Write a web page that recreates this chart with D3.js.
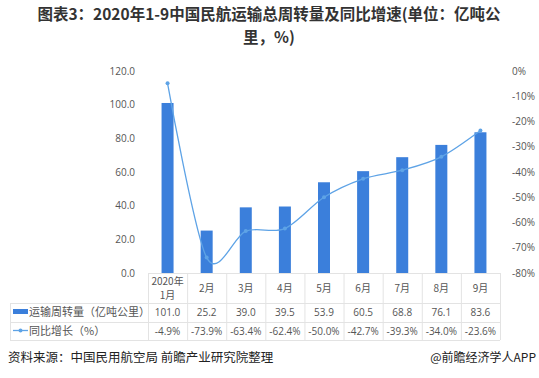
<!DOCTYPE html>
<html>
<head>
<meta charset="utf-8">
<script src="https://cdn.jsdelivr.net/npm/d3@7"></script>
<style>
  body { margin: 0; background: #fff; }
  svg { font-family: "Open Sans", "Noto Sans CJK SC", sans-serif; }
</style>
</head>
<body>
<svg id="chart" width="539" height="378"></svg>
<script>
// data
const months = ["2020年1月", "2月", "3月", "4月", "5月", "6月", "7月", "8月", "9月"];
const volume = [101.0, 25.2, 39.0, 39.5, 53.9, 60.5, 68.8, 76.1, 83.6];
const growth = [-4.9, -73.9, -63.4, -62.4, -50.0, -42.7, -39.3, -34.0, -23.6];
const leftTicks = [0, 20, 40, 60, 80, 100, 120];
const rightTicks = [0, -10, -20, -30, -40, -50, -60, -70, -80];

const svg = d3.select("#chart");
const barColor = "#3b7fdb";
const lineColor = "#5ea3e6";
const gridColor = "#e3e3e3";
const cjk = "'Noto Sans CJK SC', sans-serif";

const plot = { left: 148, right: 500, top: 71, bottom: 273 };

// scales
const x = d3.scaleBand()
  .domain(months)
  .range([plot.left, plot.right]);

const yL = d3.scaleLinear().domain([0, 120]).range([plot.bottom, plot.top]);
const yR = d3.scaleLinear().domain([-80, 0]).range([plot.bottom, plot.top]);

// title (two lines)
svg.append("text")
  .attr("x", 269).attr("y", 20)
  .attr("text-anchor", "middle")
  .attr("font-family", cjk)
  .attr("font-size", "15.5px").attr("font-weight", "bold")
  .attr("fill", "#333")
  .text("图表3：2020年1-9中国民航运输总周转量及同比增速(单位：亿吨公");
svg.append("text")
  .attr("x", 269).attr("y", 43)
  .attr("text-anchor", "middle")
  .attr("font-family", cjk)
  .attr("font-size", "15.5px").attr("font-weight", "bold")
  .attr("fill", "#333")
  .text("里，%)");

// left axis
const axL = svg.append("g")
  .attr("transform", `translate(${plot.left - 10},0)`)
  .call(d3.axisLeft(yL).tickValues(leftTicks).tickFormat(d3.format(".1f")).tickSize(0));
axL.select(".domain").remove();
axL.selectAll("text").attr("font-size", "10px").attr("fill", "#555").attr("font-family", "'Open Sans', sans-serif");

// right axis
const axR = svg.append("g")
  .attr("transform", `translate(${plot.right + 9},0)`)
  .call(d3.axisRight(yR).tickValues(rightTicks).tickFormat(d => d + "%").tickSize(0));
axR.select(".domain").remove();
axR.selectAll("text").attr("font-size", "10px").attr("fill", "#555").attr("font-family", "'Open Sans', sans-serif");

// bars
const barW = 12;
svg.append("g").selectAll("rect")
  .data(volume)
  .enter().append("rect")
  .attr("x", (d, i) => x(months[i]) + x.bandwidth() / 2 - barW / 2)
  .attr("y", d => yL(d))
  .attr("width", barW)
  .attr("height", d => yL(0) - yL(d))
  .attr("fill", barColor);

// smoothed line
const line = d3.line()
  .x((d, i) => x(months[i]) + x.bandwidth() / 2)
  .y(d => yR(d))
  .curve(d3.curveCardinal.tension(0.1));

svg.append("path")
  .datum(growth)
  .attr("d", line)
  .attr("fill", "none")
  .attr("stroke", lineColor)
  .attr("stroke-width", 1.3);

svg.append("g").selectAll("circle")
  .data(growth)
  .enter().append("circle")
  .attr("cx", (d, i) => x(months[i]) + x.bandwidth() / 2)
  .attr("cy", d => yR(d))
  .attr("r", 2)
  .attr("fill", lineColor);

// data table
const rows = { top: 273, r1: 303, r2: 322, r3: 340 };
const tableLeft = 10;
const grid = svg.append("g").attr("stroke", gridColor).attr("stroke-width", 1);

[rows.top, rows.r1, rows.r2, rows.r3].forEach((yy, i) => {
  grid.append("line")
    .attr("x1", i === 0 ? plot.left : tableLeft).attr("x2", plot.right)
    .attr("y1", yy + 0.5).attr("y2", yy + 0.5);
});
months.forEach(m => {
  grid.append("line")
    .attr("x1", x(m) + 0.5).attr("x2", x(m) + 0.5)
    .attr("y1", rows.top).attr("y2", rows.r3);
});
grid.append("line")
  .attr("x1", plot.right + 0.5).attr("x2", plot.right + 0.5)
  .attr("y1", rows.top).attr("y2", rows.r3);
grid.append("line")
  .attr("x1", tableLeft + 0.5).attr("x2", tableLeft + 0.5)
  .attr("y1", rows.r1).attr("y2", rows.r3);

// month labels
const cat = svg.append("g").attr("font-family", cjk).attr("font-size", "10px").attr("fill", "#555").attr("text-anchor", "middle");
months.forEach(m => {
  const cx = x(m) + x.bandwidth() / 2;
  if (m.indexOf("年") > 0) {
    const parts = m.split("年");
    cat.append("text").attr("x", cx).attr("y", 285).text(parts[0] + "年");
    cat.append("text").attr("x", cx).attr("y", 299).text(parts[1]);
  } else {
    cat.append("text").attr("x", cx).attr("y", 292).text(m);
  }
});

// values rows
const vals = svg.append("g").attr("font-size", "10px").attr("fill", "#555").attr("text-anchor", "middle")
  .attr("font-family", "'Open Sans', sans-serif");
volume.forEach((v, i) => {
  vals.append("text").attr("x", x(months[i]) + x.bandwidth() / 2).attr("y", 316).text(v.toFixed(1));
});
growth.forEach((v, i) => {
  vals.append("text").attr("x", x(months[i]) + x.bandwidth() / 2).attr("y", 335).text(v.toFixed(1) + "%");
});

// legend keys in table
svg.append("rect").attr("x", 13).attr("y", 309).attr("width", 15).attr("height", 5).attr("fill", barColor);
svg.append("text").attr("x", 29).attr("y", 316).attr("font-family", cjk).attr("font-size", "11px").attr("fill", "#555")
  .text("运输周转量（亿吨公里）");
svg.append("line").attr("x1", 13).attr("x2", 28).attr("y1", 330.5).attr("y2", 330.5)
  .attr("stroke", lineColor).attr("stroke-width", 1.3);
svg.append("circle").attr("cx", 20.5).attr("cy", 330.5).attr("r", 2).attr("fill", lineColor);
svg.append("text").attr("x", 29).attr("y", 335).attr("font-family", cjk).attr("font-size", "11px").attr("fill", "#555")
  .text("同比增长（%）");

// footer
svg.append("text").attr("x", 8).attr("y", 362).attr("font-family", cjk).attr("font-size", "12.5px").attr("fill", "#222")
  .text("资料来源：中国民用航空局 前瞻产业研究院整理");
svg.append("text").attr("x", 536).attr("y", 362).attr("text-anchor", "end").attr("font-family", cjk).attr("font-size", "12px").attr("fill", "#222")
  .text("@前瞻经济学人APP");
</script>
</body>
</html>
